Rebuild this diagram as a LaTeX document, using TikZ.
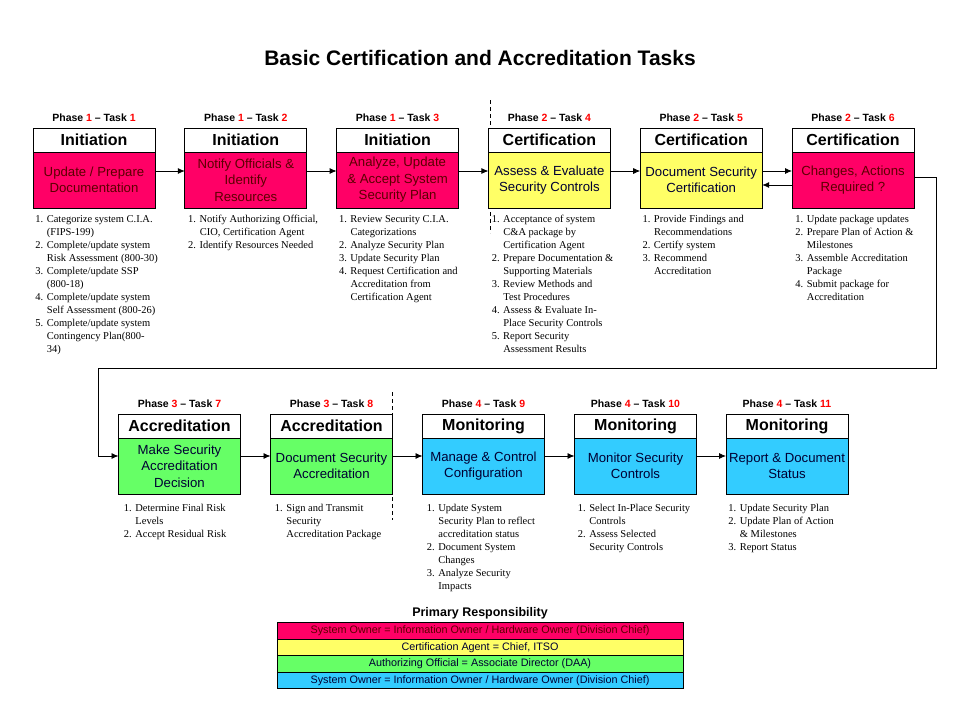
\documentclass[tikz,border=0pt]{standalone}
\usepackage{fontspec}
\setmainfont{Liberation Sans}
\newfontfamily\listfont{Liberation Serif}
\usetikzlibrary{positioning,arrows.meta}
\definecolor{ownerfill}{HTML}{FF0066}
\definecolor{ownertext}{HTML}{5C0000}
\definecolor{agentfill}{HTML}{FFFF66}
\definecolor{officialfill}{HTML}{66FF66}
\definecolor{infofill}{HTML}{33CCFF}
\definecolor{darktext}{HTML}{000033}
\newcommand{\phasetask}[2]{Phase \textcolor{red}{#1} – Task \textcolor{red}{#2}}
\newcommand{\indt}{\hspace*{1.1em}}
\begin{document}
\begin{tikzpicture}[x=1pt, y=-1pt, >={Latex[length=7pt,width=6pt]}, line width=0.8pt,
  hdr/.style={draw, fill=white, minimum width=122pt, minimum height=24pt, inner sep=0pt, outer sep=0pt, font=\bfseries\fontsize{16}{19}\selectfont},
  body/.style={draw, minimum width=122pt, minimum height=56pt, inner sep=1pt, outer sep=0pt, align=center, font=\fontsize{13.2}{16.5}\selectfont},
  phase/.style={inner sep=0pt, font=\bfseries\fontsize{10.5}{12}\selectfont},
  steps/.style={inner sep=0pt, anchor=north west, align=left, font=\listfont\fontsize{10.5}{13}\selectfont},
  legbar/.style={draw, minimum width=406pt, minimum height=16.5pt, inner sep=0pt, outer sep=0pt, font=\fontsize{10.8}{12}\selectfont},
  sysowner/.style={fill=ownerfill, text=ownertext},
  certagent/.style={fill=agentfill, text=darktext},
  authofficial/.style={fill=officialfill, text=darktext},
  infoowner/.style={fill=infofill, text=darktext}]
\fill[white] (0,0) rectangle (960,720);
\useasboundingbox (0,0) rectangle (960,720);
\node[font=\bfseries\fontsize{21}{24}\selectfont] (title) at (480,58) {Basic Certification and Accreditation Tasks};
% phase borders
\draw[dashed, line width=0.6pt, dash pattern=on 4pt off 3pt] (490,100) -- (490,233);
\draw[dashed, line width=0.6pt, dash pattern=on 4pt off 3pt] (392,392) -- (392,520);
%% top row
\node[hdr] (h1) at (94,140) {Initiation};
\node[body, sysowner, below=0pt of h1] (t1) {Update / Prepare\\Documentation};
\node[phase, above=6pt of h1] (p1) {\phasetask{1}{1}};
\node[steps] (l1) at ([xshift=2pt,yshift=-7pt]t1.south west) {1. Categorize system C.I.A.\\ \indt(FIPS-199)\\ 2. Complete/update system\\ \indt Risk Assessment (800-30)\\ 3. Complete/update SSP\\ \indt(800-18)\\ 4. Complete/update system\\ \indt Self Assessment (800-26)\\ 5. Complete/update system\\ \indt Contingency Plan(800-\\ \indt 34)};

\node[hdr] (h2) at (245.8,140) {Initiation};
\node[body, sysowner, below=0pt of h2] (t2) {Notify Officials \&\\Identify\\Resources};
\node[phase, above=6pt of h2] (p2) {\phasetask{1}{2}};
\node[steps] (l2) at ([xshift=3pt,yshift=-7pt]t2.south west) {1. Notify Authorizing Official,\\ \indt CIO, Certification Agent\\ 2. Identify Resources Needed};

\node[hdr] (h3) at (397.6,140) {Initiation};
\node[body, sysowner, below=0pt of h3] (t3) {Analyze, Update\\\& Accept System\\Security Plan};
\node[phase, above=6pt of h3] (p3) {\phasetask{1}{3}};
\node[steps] (l3) at ([xshift=2pt,yshift=-7pt]t3.south west) {1. Review Security C.I.A.\\ \indt Categorizations\\ 2. Analyze Security Plan\\ 3. Update Security Plan\\ 4. Request Certification and\\ \indt Accreditation from\\ \indt Certification Agent};

\node[hdr] (h4) at (549.4,140) {Certification};
\node[body, certagent, below=0pt of h4] (t4) {Assess \& Evaluate\\Security Controls};
\node[phase, above=6pt of h4] (p4) {\phasetask{2}{4}};
\node[steps] (l4) at ([xshift=3pt,yshift=-7pt]t4.south west) {1. Acceptance of system\\ \indt C\&A package by\\ \indt Certification Agent\\ 2. Prepare Documentation \&\\ \indt Supporting Materials\\ 3. Review Methods and\\ \indt Test Procedures\\ 4. Assess \& Evaluate In-\\ \indt Place Security Controls\\ 5. Report Security\\ \indt Assessment Results};

\node[hdr] (h5) at (701.2,140) {Certification};
\node[body, certagent, below=0pt of h5] (t5) {Document Security\\Certification};
\node[phase, above=6pt of h5] (p5) {\phasetask{2}{5}};
\node[steps] (l5) at ([xshift=2pt,yshift=-7pt]t5.south west) {1. Provide Findings and\\ \indt Recommendations\\ 2. Certify system\\ 3. Recommend\\ \indt Accreditation};

\node[hdr] (h6) at (853,140) {Certification};
\node[body, sysowner, below=0pt of h6] (t6) {Changes, Actions\\Required ?};
\node[phase, above=6pt of h6] (p6) {\phasetask{2}{6}};
\node[steps] (l6) at ([xshift=3pt,yshift=-7pt]t6.south west) {1. Update package updates\\ 2. Prepare Plan of Action \&\\ \indt Milestones\\ 3. Assemble Accreditation\\ \indt Package\\ 4. Submit package for\\ \indt Accreditation};

%% bottom row
\node[hdr] (h7) at (179.5,426) {Accreditation};
\node[body, authofficial, below=0pt of h7] (t7) {Make Security\\Accreditation\\Decision};
\node[phase, above=6pt of h7] (p7) {\phasetask{3}{7}};
\node[steps] (l7) at ([xshift=5pt,yshift=-10pt]t7.south west) {1. Determine Final Risk\\ \indt Levels\\ 2. Accept Residual Risk};

\node[hdr] (h8) at (331.5,426) {Accreditation};
\node[body, authofficial, below=0pt of h8] (t8) {Document Security\\Accreditation};
\node[phase, above=6pt of h8] (p8) {\phasetask{3}{8}};
\node[steps] (l8) at ([xshift=4pt,yshift=-10pt]t8.south west) {1. Sign and Transmit\\ \indt Security\\ \indt Accreditation Package};

\node[hdr] (h9) at (483.5,426) {Monitoring};
\node[body, infoowner, below=0pt of h9] (t9) {Manage \& Control\\Configuration};
\node[phase, above=6pt of h9] (p9) {\phasetask{4}{9}};
\node[steps] (l9) at ([xshift=4pt,yshift=-10pt]t9.south west) {1. Update System\\ \indt Security Plan to reflect\\ \indt accreditation status\\ 2. Document System\\ \indt Changes\\ 3. Analyze Security\\ \indt Impacts};

\node[hdr] (h10) at (635.5,426) {Monitoring};
\node[body, infoowner, below=0pt of h10] (t10) {Monitor Security\\Controls};
\node[phase, above=6pt of h10] (p10) {\phasetask{4}{10}};
\node[steps] (l10) at ([xshift=3pt,yshift=-10pt]t10.south west) {1. Select In-Place Security\\ \indt Controls\\ 2. Assess Selected\\ \indt Security Controls};

\node[hdr] (h11) at (787,426) {Monitoring};
\node[body, infoowner, below=0pt of h11] (t11) {Report \& Document\\Status};
\node[phase, above=6pt of h11] (p11) {\phasetask{4}{11}};
\node[steps] (l11) at ([xshift=2pt,yshift=-10pt]t11.south west) {1. Update Security Plan\\ 2. Update Plan of Action\\ \indt\& Milestones\\ 3. Report Status};

%% connectors
\foreach \a/\b in {t1/t2,t2/t3,t3/t4,t4/t5,t5/t6}
  \draw[->] ([yshift=9pt]\a.east) -- ([yshift=9pt]\b.west);
\draw[->] ([yshift=-5pt]t6.west) -- ([yshift=-5pt]t5.east);
\coordinate (wrapR) at (936,368);
\coordinate (wrapL) at (98,368);
\draw[->] ([yshift=3pt]t6.east) -| (wrapR) -- (wrapL) |- ([yshift=10pt]t7.west);
\foreach \a/\b in {t7/t8,t8/t9,t9/t10,t10/t11}
  \draw[->] ([yshift=10pt]\a.east) -- ([yshift=10pt]\b.west);

%% legend
\node[font=\bfseries\fontsize{12.5}{15}\selectfont] (legtitle) at (480,613) {Primary Responsibility};
\node[legbar, sysowner] (r1) at (480,631) {System Owner = Information Owner / Hardware Owner (Division Chief)};
\node[legbar, certagent, below=0pt of r1] (r2) {Certification Agent = Chief, ITSO};
\node[legbar, authofficial, below=0pt of r2] (r3) {Authorizing Official = Associate Director (DAA)};
\node[legbar, infoowner, below=0pt of r3] (r4) {System Owner = Information Owner / Hardware Owner (Division Chief)};
\end{tikzpicture}
\end{document}
